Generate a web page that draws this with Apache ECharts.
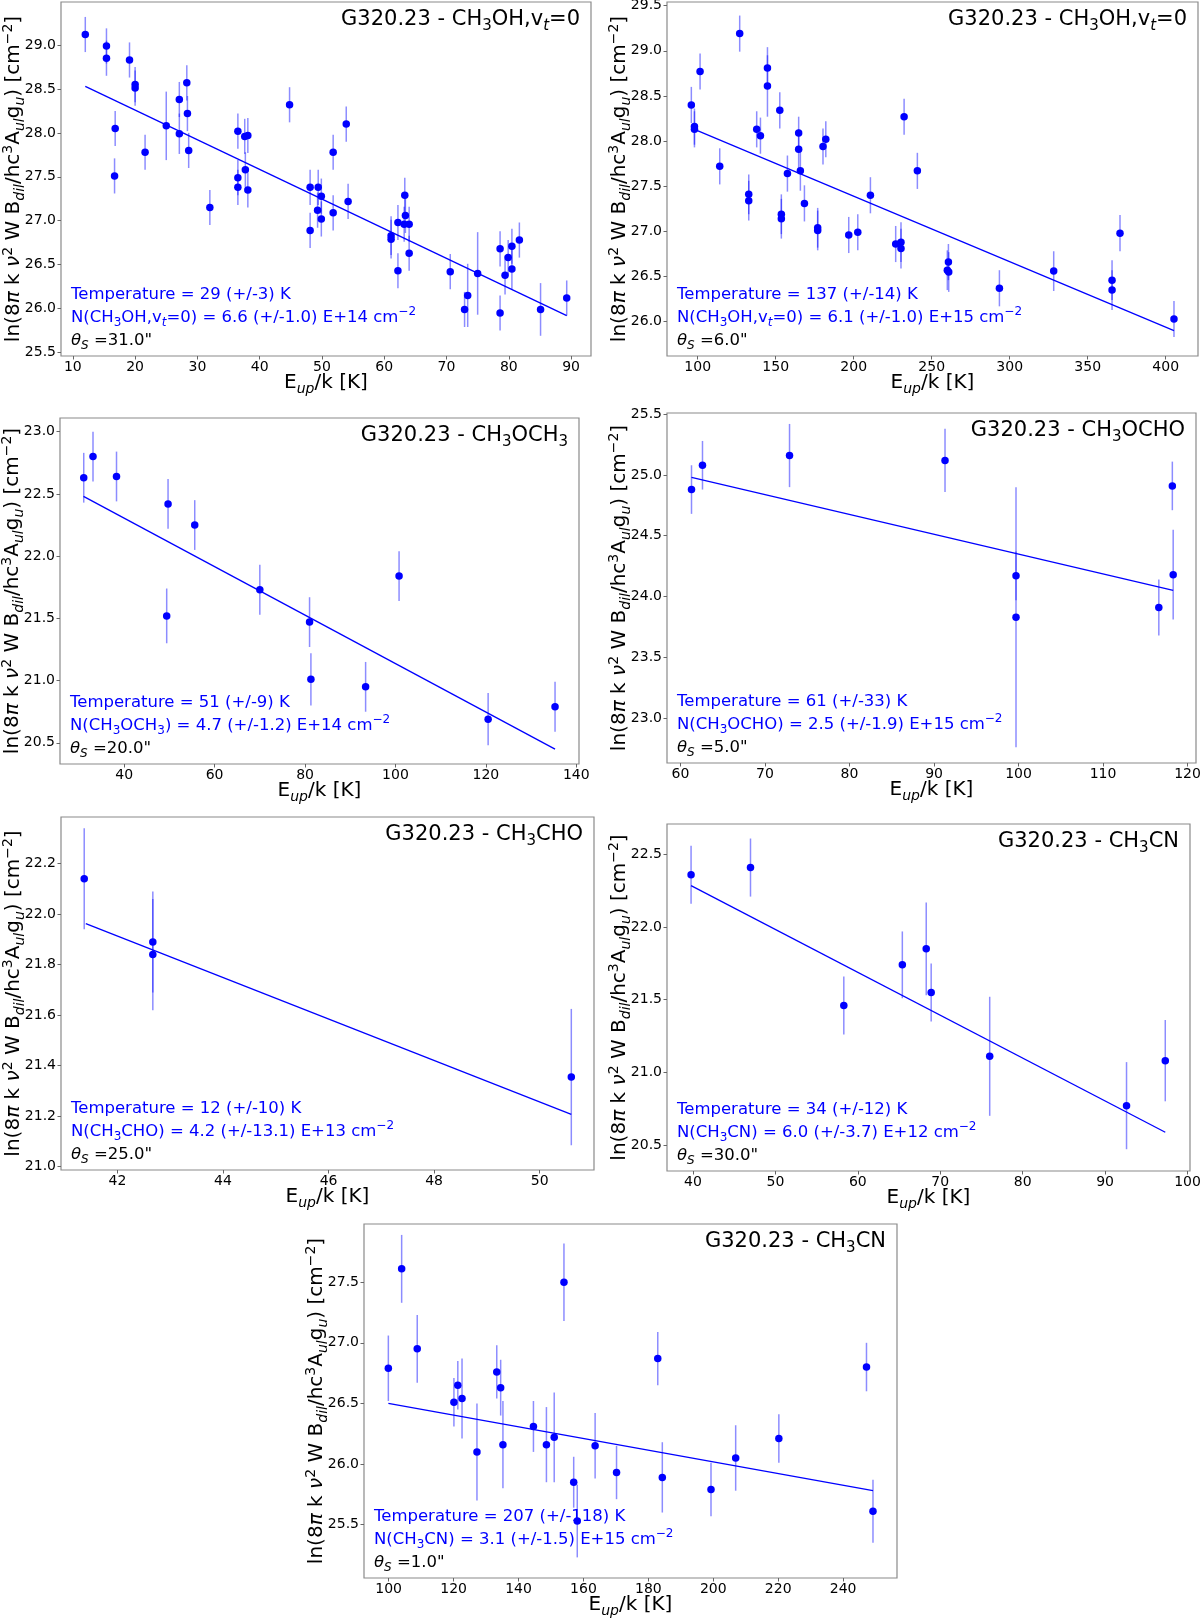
<!DOCTYPE html>
<html><head><meta charset="utf-8">
<script src="https://cdn.jsdelivr.net/npm/echarts@6/dist/echarts.min.js"></script>
<style>html,body{margin:0;padding:0;background:#fff}#c{width:1200px;height:1620px}</style>
</head><body><div id="c"></div>
<script>
// ---------- DATA ----------
// Panel 1: CH3OH, vt=0 (theta 31")
const p1_eup = [12.0,15.4,15.4,19.1,20.0,20.0,16.8,16.7,21.6,25.0,27.1,28.3,28.4,27.1,28.6,32.0,36.5,37.6,38.1,36.5,36.5,37.7,38.1,44.8,48.1,49.4,49.9,49.3,49.9,48.1,51.8,51.8,53.9,54.2,61.1,61.1,62.2,62.2,63.3,63.4,63.2,64.0,64.0,70.6,72.9,73.4,75.0,78.6,78.6,79.4,79.9,80.5,80.5,81.7,85.1,89.3];
const p1_ln = [29.12,28.99,28.85,28.83,28.55,28.51,28.05,27.51,27.78,28.08,28.38,28.57,28.22,27.99,27.80,27.15,28.02,27.96,27.97,27.49,27.38,27.58,27.35,28.32,27.38,27.38,27.28,27.12,27.02,26.89,27.78,27.09,28.10,27.22,26.83,26.79,26.98,26.43,27.29,27.06,26.96,26.96,26.63,26.42,25.99,26.15,26.40,26.68,25.95,26.38,26.58,26.71,26.45,26.78,25.99,26.12];
const p1_err = [0.2,0.2,0.2,0.2,0.2,0.2,0.2,0.2,0.2,0.39,0.2,0.2,0.2,0.23,0.2,0.2,0.2,0.2,0.2,0.2,0.2,0.2,0.2,0.2,0.2,0.2,0.2,0.2,0.2,0.2,0.2,0.2,0.2,0.2,0.22,0.22,0.2,0.2,0.2,0.2,0.2,0.2,0.2,0.2,0.2,0.36,0.47,0.2,0.2,0.22,0.2,0.2,0.23,0.2,0.3,0.2];
const p1_fitX = [12.0, 89.3];
const p1_fitY = [28.53, 25.92];
const p1_xTicks = [10,20,30,40,50,60,70,80,90];
const p1_yTicks = [25.5,26.0,26.5,27.0,27.5,28.0,28.5,29.0];

// Panel 2: CH3OH, vt=0 (theta 6")
const p2_eup = [95.9,97.9,97.9,101.5,114.1,126.9,132.7,132.7,137.8,140.2,144.7,144.7,152.6,153.6,153.6,157.5,164.7,164.7,165.8,168.4,176.9,176.9,180.3,182.1,196.8,202.6,210.7,226.9,230.3,230.3,232.3,240.8,260.7,260.0,260.9,293.4,328.2,365.6,365.6,370.7,405.3];
const p2_ln = [28.40,28.16,28.13,28.77,27.72,29.19,27.41,27.34,28.13,28.06,28.81,28.61,28.34,27.19,27.14,27.64,28.09,27.91,27.67,27.31,27.04,27.01,27.94,28.02,26.96,26.99,27.40,26.86,26.88,26.81,28.27,27.67,26.66,26.57,26.55,26.37,26.56,26.46,26.35,26.98,26.03];
const p2_err = [0.2,0.2,0.2,0.2,0.2,0.2,0.22,0.22,0.2,0.2,0.23,0.34,0.2,0.22,0.22,0.2,0.18,0.22,0.22,0.2,0.22,0.22,0.2,0.2,0.2,0.2,0.2,0.2,0.22,0.22,0.2,0.2,0.2,0.22,0.22,0.2,0.22,0.22,0.22,0.2,0.2];
const p2_fitX = [97.9, 405.3];
const p2_fitY = [28.13, 25.90];
const p2_xTicks = [100,150,200,250,300,350,400];
const p2_yTicks = [26.0,26.5,27.0,27.5,28.0,28.5,29.0,29.5];

// Panel 3: CH3OCH3
const p3_eup = [31.05,33.1,38.3,49.7,49.4,55.6,70.0,81.0,81.3,93.4,100.8,120.5,135.3];
const p3_ln = [22.63,22.80,22.64,22.42,21.52,22.25,21.73,21.47,21.01,20.95,21.84,20.69,20.79];
const p3_err = [0.2,0.2,0.2,0.2,0.22,0.2,0.2,0.2,0.21,0.2,0.2,0.21,0.2];
const p3_fitX = [31.0, 135.3];
const p3_fitY = [22.48, 20.45];
const p3_xTicks = [40,60,80,100,120,140];
const p3_yTicks = [20.5,21.0,21.5,22.0,22.5,23.0];

// Panel 4: CH3OCHO
const p4_eup = [61.3,62.6,72.9,91.3,99.7,99.7,116.6,118.2,118.3];
const p4_ln = [24.88,25.08,25.16,25.12,24.17,23.83,23.91,24.91,24.18];
const p4_err = [0.2,0.2,0.26,0.26,0.2,1.07,0.23,0.2,0.37];
const p4_fitX = [61.3, 118.3];
const p4_fitY = [24.98, 24.05];
const p4_xTicks = [60,70,80,90,100,110,120];
const p4_yTicks = [23.0,23.5,24.0,24.5,25.0,25.5];

// Panel 5: CH3CHO
const p5_eup = [41.37,42.67,42.67,50.6];
const p5_ln = [22.14,21.89,21.84,21.355];
const p5_err = [0.2,0.2,0.22,0.27];
const p5_fitX = [41.4, 50.6];
const p5_fitY = [21.963, 21.207];
const p5_xTicks = [42,44,46,48,50];
const p5_yTicks = [21.0,21.2,21.4,21.6,21.8,22.0,22.2];

// Panel 6: CH3CN (theta 30")
const p6_eup = [39.77,46.98,58.3,65.4,68.3,68.9,76.0,92.6,97.3];
const p6_ln = [22.36,22.41,21.46,21.74,21.85,21.55,21.11,20.77,21.08];
const p6_err = [0.2,0.2,0.2,0.23,0.32,0.2,0.41,0.3,0.28];
const p6_fitX = [39.77, 97.3];
const p6_fitY = [22.286, 20.587];
const p6_xTicks = [40,50,60,70,80,90,100];
const p6_yTicks = [20.5,21.0,21.5,22.0,22.5];

// Panel 7: CH3CN (theta 1")
const p7_eup = [99.9,104.0,108.8,120.1,121.3,122.6,127.2,133.3,134.5,135.2,144.6,148.6,151.0,154.0,157.0,158.1,163.6,170.2,182.9,184.3,199.3,206.9,220.2,247.2,249.2];
const p7_ln = [26.79,27.61,26.95,26.51,26.65,26.54,26.10,26.76,26.63,26.16,26.31,26.16,26.22,27.50,25.85,25.53,26.15,25.93,26.87,25.89,25.79,26.05,26.21,26.80,25.61];
const p7_err = [0.27,0.28,0.28,0.2,0.2,0.33,0.4,0.22,0.23,0.36,0.21,0.31,0.37,0.32,0.21,0.3,0.27,0.22,0.22,0.29,0.22,0.27,0.2,0.2,0.26];
const p7_fitX = [99.9, 249.2];
const p7_fitY = [26.50, 25.78];
const p7_xTicks = [100,120,140,160,180,200,220,240];
const p7_yTicks = [25.5,26.0,26.5,27.0,27.5];

// Axis ranges [min, max, step, decimals]
const xRanges = [[8.1,93.2,10,0],[80.3,420.7,50,0],[25.8,140.6,20,0],[58.4,121.0,10,0],[40.93,51.03,2,0],[36.85,100.3,10,0],[92.4,256.6,20,0]];
const yRanges = [[25.46,29.49,0.5,1],[25.62,29.54,0.5,1],[20.33,23.11,0.5,1],[22.63,25.51,0.5,1],[20.987,22.385,0.2,1],[20.32,22.71,0.5,1],[25.06,27.98,0.5,1]];

// Text
const titles = [
  'G320.23 - CH{s|3}OH,v{si|t}=0',
  'G320.23 - CH{s|3}OH,v{si|t}=0',
  'G320.23 - CH{s|3}OCH{s|3}',
  'G320.23 - CH{s|3}OCHO',
  'G320.23 - CH{s|3}CHO',
  'G320.23 - CH{s|3}CN',
  'G320.23 - CH{s|3}CN'
];
const annotations = [
  ['Temperature = 29 (+/-3) K', 'N(CH{s|3}OH,v{si|t}=0) = 6.6 (+/-1.0) E+14 cm{p|−2}', '{ki|θ}{ksi|S}{k| =31.0"}'],
  ['Temperature = 137 (+/-14) K', 'N(CH{s|3}OH,v{si|t}=0) = 6.1 (+/-1.0) E+15 cm{p|−2}', '{ki|θ}{ksi|S}{k| =6.0"}'],
  ['Temperature = 51 (+/-9) K', 'N(CH{s|3}OCH{s|3}) = 4.7 (+/-1.2) E+14 cm{p|−2}', '{ki|θ}{ksi|S}{k| =20.0"}'],
  ['Temperature = 61 (+/-33) K', 'N(CH{s|3}OCHO) = 2.5 (+/-1.9) E+15 cm{p|−2}', '{ki|θ}{ksi|S}{k| =5.0"}'],
  ['Temperature = 12 (+/-10) K', 'N(CH{s|3}CHO) = 4.2 (+/-13.1) E+13 cm{p|−2}', '{ki|θ}{ksi|S}{k| =25.0"}'],
  ['Temperature = 34 (+/-12) K', 'N(CH{s|3}CN) = 6.0 (+/-3.7) E+12 cm{p|−2}', '{ki|θ}{ksi|S}{k| =30.0"}'],
  ['Temperature = 207 (+/-118) K', 'N(CH{s|3}CN) = 3.1 (+/-1.5) E+15 cm{p|−2}', '{ki|θ}{ksi|S}{k| =1.0"}']
];
const xName = 'E{si|up}/k [K]';
const yName = 'ln(8{i|π} k {i|ν}{p|2} W B{si|dil}/hc{p|3}A{si|ul}g{si|u}) [cm{p|−2}]';

// ---------- LAYOUT ----------
const layouts = [
  {left:61, top:2, width:530, height:354},
  {left:667, top:2, width:531, height:354},
  {left:60, top:418, width:519, height:346},
  {left:667, top:413, width:529, height:350},
  {left:61, top:817, width:533, height:353},
  {left:667, top:824, width:523, height:347},
  {left:364, top:1224, width:533, height:354}
];

const FONT = 'DejaVu Sans';
const BLUE = '#0000ff';
const ERRC = 'rgba(0,0,255,0.45)';

function richSet(base, color, lh) {
  const sub = Math.round(base * 0.72);
  const mk = (o) => Object.assign({fontFamily: FONT}, o);
  return {
    s: mk({fontSize: sub, lineHeight: sub, verticalAlign: 'bottom', color: color}),
    si: mk({fontSize: sub, lineHeight: sub, verticalAlign: 'bottom', color: color, fontStyle: 'italic'}),
    p: mk({fontSize: sub, lineHeight: sub, verticalAlign: 'top', color: color}),
    i: mk({fontSize: base, lineHeight: lh, color: color, fontStyle: 'italic'}),
    k: mk({fontSize: base, lineHeight: lh, color: '#000'}),
    ki: mk({fontSize: base, lineHeight: lh, color: '#000', fontStyle: 'italic'}),
    ksi: mk({fontSize: sub, lineHeight: sub, verticalAlign: 'bottom', color: '#000', fontStyle: 'italic'})
  };
}

const panels = [
  [p1_eup, p1_ln, p1_err, p1_fitX, p1_fitY, p1_xTicks, p1_yTicks],
  [p2_eup, p2_ln, p2_err, p2_fitX, p2_fitY, p2_xTicks, p2_yTicks],
  [p3_eup, p3_ln, p3_err, p3_fitX, p3_fitY, p3_xTicks, p3_yTicks],
  [p4_eup, p4_ln, p4_err, p4_fitX, p4_fitY, p4_xTicks, p4_yTicks],
  [p5_eup, p5_ln, p5_err, p5_fitX, p5_fitY, p5_xTicks, p5_yTicks],
  [p6_eup, p6_ln, p6_err, p6_fitX, p6_fitY, p6_xTicks, p6_yTicks],
  [p7_eup, p7_ln, p7_err, p7_fitX, p7_fitY, p7_xTicks, p7_yTicks]
];

function fmt(step, dec) {
  return function (v) {
    const q = v / step;
    if (Math.abs(q - Math.round(q)) > 1e-6) return '';
    return v.toFixed(dec);
  };
}

const grids = [], xAxes = [], yAxes = [], series = [], titleComps = [];
layouts.forEach((L, i) => {
  grids.push({left: L.left, top: L.top, width: L.width, height: L.height, show: true,
    borderColor: '#8a8a8a', borderWidth: 1.2, backgroundColor: 'transparent',
    containLabel: false, outerBoundsMode: 'none'});
  const xr = xRanges[i], yr = yRanges[i];
  const [xs, ys, es, fx, fy, xt, yt] = panels[i];
  xAxes.push({gridIndex: i, type: 'value', min: xr[0], max: xr[1], minInterval: xr[2], maxInterval: xr[2],
    axisLine: {show: false, onZero: false},
    axisTick: {show: true, inside: false, length: 3.5, customValues: xt, lineStyle: {color: '#666', width: 1}},
    splitLine: {show: false},
    axisLabel: {customValues: xt, formatter: fmt(xr[2], xr[3]), fontSize: 14, color: '#000', fontFamily: FONT, margin: 4},
    name: xName, nameLocation: 'middle', nameGap: 14, nameMoveOverlap: false,
    nameTextStyle: {fontSize: 20, fontFamily: FONT, color: '#000', lineHeight: 26, rich: richSet(20, '#000', 26)}});
  yAxes.push({gridIndex: i, type: 'value', min: yr[0], max: yr[1], minInterval: yr[2], maxInterval: yr[2],
    axisLine: {show: false, onZero: false},
    axisTick: {show: true, inside: false, length: 3.5, customValues: yt, lineStyle: {color: '#666', width: 1}},
    splitLine: {show: false},
    axisLabel: {customValues: yt, formatter: fmt(yr[2], yr[3]), fontSize: 14, color: '#000', fontFamily: FONT, margin: 5},
    name: yName, nameLocation: 'middle', nameRotate: 90, nameGap: 34, nameMoveOverlap: false,
    nameTextStyle: {fontSize: 20, fontFamily: FONT, color: '#000', lineHeight: 26, rich: richSet(20, '#000', 26)}});

  series.push({type: 'custom', xAxisIndex: i, yAxisIndex: i, silent: true, z: 1,
    data: xs.map((x, k) => [x, ys[k], es[k]]),
    encode: {x: 0, y: 1},
    renderItem: function (params, api) {
      const x = api.value(0), y = api.value(1), e = api.value(2);
      const a = api.coord([x, y - e]), b = api.coord([x, y + e]);
      return {type: 'line', shape: {x1: a[0], y1: a[1], x2: b[0], y2: b[1]},
        style: {stroke: ERRC, lineWidth: 1.5}};
    }});
  series.push({type: 'line', xAxisIndex: i, yAxisIndex: i, silent: true, z: 2,
    data: fx.map((x, k) => [x, fy[k]]), symbol: 'none',
    lineStyle: {color: BLUE, width: 1.3}});
  series.push({type: 'scatter', xAxisIndex: i, yAxisIndex: i, silent: true, z: 3,
    data: xs.map((x, k) => [x, ys[k]]), symbol: 'circle', symbolSize: 7.5,
    itemStyle: {color: BLUE, opacity: 1}});

  titleComps.push({text: titles[i], right: 1200 - (L.left + L.width) + 11, top: L.top + 4, padding: 0,
    textStyle: {fontSize: 21, fontFamily: FONT, fontWeight: 'normal', color: '#000', lineHeight: 28, rich: richSet(21, '#000', 28)}});
  titleComps.push({text: annotations[i].join('\n'), left: L.left + 10, top: L.top + L.height - 73, padding: 0,
    textStyle: {fontSize: 16.5, fontFamily: FONT, fontWeight: 'normal', color: BLUE, lineHeight: 23, rich: richSet(16.5, BLUE, 23)}});
});

const chart = echarts.init(document.getElementById('c'), null, {renderer: 'canvas'});
chart.setOption({
  animation: false,
  backgroundColor: '#fff',
  title: titleComps,
  grid: grids,
  xAxis: xAxes,
  yAxis: yAxes,
  series: series
});
</script>
</body></html>
